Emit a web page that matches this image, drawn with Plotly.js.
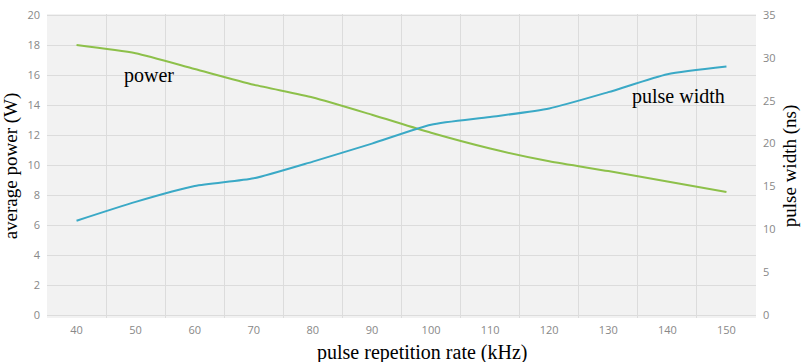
<!DOCTYPE html>
<html>
<head>
<meta charset="utf-8">
<script src="https://cdn.plot.ly/plotly-3.0.1.min.js"></script>
<style>html,body{margin:0;padding:0;background:#fff;}#chart{width:805px;height:362px;}</style>
</head>
<body>
<div id="chart"></div>
<script>
const repRate = [40, 50, 60, 70, 80, 90, 100, 110, 120, 130, 140, 150];
const avgPower = [18.0, 17.45, 16.4, 15.35, 14.5, 13.35, 12.15, 11.1, 10.25, 9.6, 8.9, 8.2];
const pulseWidth = [11.0, 13.2, 15.05, 15.95, 17.9, 20.0, 22.2, 23.1, 24.1, 26.0, 28.1, 29.0];
const leftTicks = [0, 2, 4, 6, 8, 10, 12, 14, 16, 18, 20];
const rightTicks = [0, 5, 10, 15, 20, 25, 30, 35];

const serif = "Liberation Serif, Times New Roman, serif";
const tickFont = {family: "Open Sans, DejaVu Sans, sans-serif", size: 11, color: "#888888"};

const traces = [
  {x: repRate, y: avgPower, type: "scatter", mode: "lines", name: "power",
   line: {color: "#8dc04a", width: 2, shape: "spline", smoothing: 0.6}, yaxis: "y"},
  {x: repRate, y: pulseWidth, type: "scatter", mode: "lines", name: "pulse width",
   line: {color: "#3aa9c6", width: 2, shape: "spline", smoothing: 0.6}, yaxis: "y2"}
];

const layout = {
  width: 805, height: 362,
  margin: {l: 47, r: 49, t: 14, b: 44},
  paper_bgcolor: "#ffffff",
  plot_bgcolor: "#f2f2f2",
  showlegend: false,
  xaxis: {
    range: [35, 155], tickvals: repRate, ticktext: repRate.map(String),
    showgrid: false, zeroline: false, showline: false, ticks: "",
    tickfont: tickFont, ticklabelstandoff: 4,
    minor: {tick0: 35, dtick: 10, showgrid: true, gridcolor: "#dcdcdc", gridwidth: 1, ticks: ""}
  },
  yaxis: {
    range: [-0.2, 20.07], tickvals: leftTicks, ticktext: leftTicks.map(String),
    showgrid: true, gridcolor: "#dcdcdc", gridwidth: 1, zeroline: false, showline: false, ticks: "",
    tickfont: tickFont, ticklabelstandoff: 6,
    title: {text: "average power (W)", font: {family: serif, size: 19, color: "#000"}, standoff: 4}
  },
  yaxis2: {
    overlaying: "y", side: "right",
    range: [-0.35, 35.12], tickvals: rightTicks, ticktext: rightTicks.map(String),
    showgrid: false, zeroline: false, showline: false, ticks: "",
    tickfont: tickFont, ticklabelstandoff: 6,
    title: {text: "pulse width (ns)", font: {family: serif, size: 19, color: "#000"}, standoff: 8}
  },
  annotations: [
    {x: 426 / 805, y: 0, xref: "paper", yref: "paper", xanchor: "center", yanchor: "middle",
     yshift: -34, text: "pulse repetition rate (kHz)", showarrow: false,
     font: {family: serif, size: 20, color: "#000"}},
    {x: 52.3, y: 16, xref: "x", yref: "y", text: "power", showarrow: false,
     font: {family: serif, size: 20, color: "#000"}},
    {x: 141.8, y: 25.5, xref: "x", yref: "y2", text: "pulse width", showarrow: false,
     font: {family: serif, size: 20, color: "#000"}}
  ]
};

Plotly.newPlot("chart", traces, layout, {displayModeBar: false, staticPlot: true});
</script>
</body>
</html>
